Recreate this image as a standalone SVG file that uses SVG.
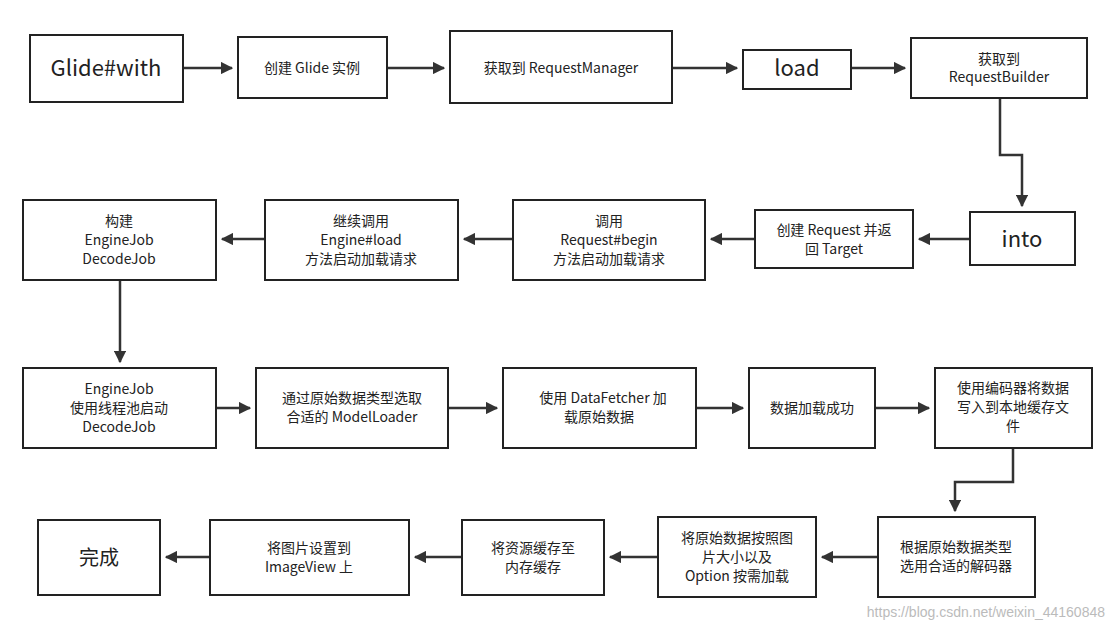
<svg xmlns="http://www.w3.org/2000/svg" width="1113" height="633" viewBox="0 0 1113 633">
<style>
.b{fill:#fff;stroke:#222;stroke-width:2}
.t{font-family:"Noto Sans CJK SC","Liberation Sans",sans-serif;font-size:14px;fill:#222;text-anchor:middle}
.L{font-size:22px}
.c{fill:none;stroke:#333;stroke-width:2.5;marker-end:url(#a)}
</style>
<defs><marker id="a" viewBox="0 0 10 10" refX="9" refY="5" markerWidth="5" markerHeight="5" orient="auto" markerUnits="strokeWidth"><path d="M0,0L10,5L0,10z" fill="#333"/></marker></defs>
<rect width="1113" height="633" fill="#fff"/>
<g id="connectors">
<path class="c" d="M183,68H232"/>
<path class="c" d="M387,68H444"/>
<path class="c" d="M672,68H737"/>
<path class="c" d="M851,68H905"/>
<path class="c" d="M1000,98V155H1022V206"/>
<path class="c" d="M970,239H919"/>
<path class="c" d="M755,239H711"/>
<path class="c" d="M513,239H464"/>
<path class="c" d="M265,239H222"/>
<path class="c" d="M120,280V362"/>
<path class="c" d="M216,408H250"/>
<path class="c" d="M448,408H497"/>
<path class="c" d="M696,408H743"/>
<path class="c" d="M875,408H929"/>
<path class="c" d="M1013,448V482H955V511"/>
<path class="c" d="M878,557H822"/>
<path class="c" d="M658,557H610"/>
<path class="c" d="M462,557H415"/>
<path class="c" d="M210,557H166"/>
</g>
<g id="n1"><rect class="b" x="30" y="35" width="153" height="67"/><text class="t L" x="106" y="76">Glide#with</text></g>
<g id="n2"><rect class="b" x="238" y="37" width="149" height="61"/><text class="t" x="312" y="73">创建 Glide 实例</text></g>
<g id="n3"><rect class="b" x="450" y="31" width="222" height="72"/><text class="t" x="561" y="73">获取到 RequestManager</text></g>
<g id="n4"><rect class="b" x="743" y="50" width="108" height="39"/><text class="t L" x="797" y="76">load</text></g>
<g id="n5"><rect class="b" x="911" y="38" width="176" height="60"/><text class="t" x="999" y="64">获取到</text><text class="t" x="999" y="82">RequestBuilder</text></g>
<g id="n6"><rect class="b" x="970" y="212" width="105" height="53"/><text class="t L" x="1022" y="247">into</text></g>
<g id="n7"><rect class="b" x="755" y="210" width="158" height="58"/><text class="t" x="834" y="235">创建 Request 并返</text><text class="t" x="834" y="254">回 Target</text></g>
<g id="n8"><rect class="b" x="513" y="200" width="192" height="80"/><text class="t" x="609" y="226">调用</text><text class="t" x="609" y="245">Request#begin</text><text class="t" x="609" y="264">方法启动加载请求</text></g>
<g id="n9"><rect class="b" x="265" y="200" width="193" height="80"/><text class="t" x="361" y="226">继续调用</text><text class="t" x="361" y="245">Engine#load</text><text class="t" x="361" y="264">方法启动加载请求</text></g>
<g id="n10"><rect class="b" x="23" y="200" width="193" height="80"/><text class="t" x="119" y="226">构建</text><text class="t" x="119" y="245">EngineJob</text><text class="t" x="119" y="264">DecodeJob</text></g>
<g id="n11"><rect class="b" x="23" y="368" width="193" height="80"/><text class="t" x="119" y="394">EngineJob</text><text class="t" x="119" y="413">使用线程池启动</text><text class="t" x="119" y="432">DecodeJob</text></g>
<g id="n12"><rect class="b" x="256" y="368" width="192" height="80"/><text class="t" x="352" y="403">通过原始数据类型选取</text><text class="t" x="352" y="422">合适的 ModelLoader</text></g>
<g id="n13"><rect class="b" x="503" y="368" width="193" height="80"/><text class="t" x="603" y="403">使用 DataFetcher 加</text><text class="t" x="599" y="422">载原始数据</text></g>
<g id="n14"><rect class="b" x="749" y="368" width="126" height="80"/><text class="t" x="812" y="413">数据加载成功</text></g>
<g id="n15"><rect class="b" x="935" y="368" width="157" height="80"/><text class="t" x="1013" y="393">使用编码器将数据</text><text class="t" x="1013" y="412">写入到本地缓存文</text><text class="t" x="1013" y="431">件</text></g>
<g id="n16"><rect class="b" x="878" y="517" width="157" height="80"/><text class="t" x="956" y="552">根据原始数据类型</text><text class="t" x="956" y="571">选用合适的解码器</text></g>
<g id="n17"><rect class="b" x="658" y="517" width="158" height="80"/><text class="t" x="737" y="543">将原始数据按照图</text><text class="t" x="737" y="562">片大小以及</text><text class="t" x="737" y="581">Option 按需加载</text></g>
<g id="n18"><rect class="b" x="462" y="520" width="142" height="75"/><text class="t" x="533" y="553">将资源缓存至</text><text class="t" x="533" y="572">内存缓存</text></g>
<g id="n19"><rect class="b" x="210" y="520" width="199" height="75"/><text class="t" x="309" y="553">将图片设置到</text><text class="t" x="309" y="572">ImageView 上</text></g>
<g id="n20"><rect class="b" x="38" y="520" width="122" height="75"/><text class="t" x="99" y="565" style="font-size:20px">完成</text></g>
<text x="1105" y="617" style="font-family:'Liberation Sans',sans-serif;font-size:14px;fill:#bbb;text-anchor:end">https://blog.csdn.net/weixin_44160848</text>
</svg>
